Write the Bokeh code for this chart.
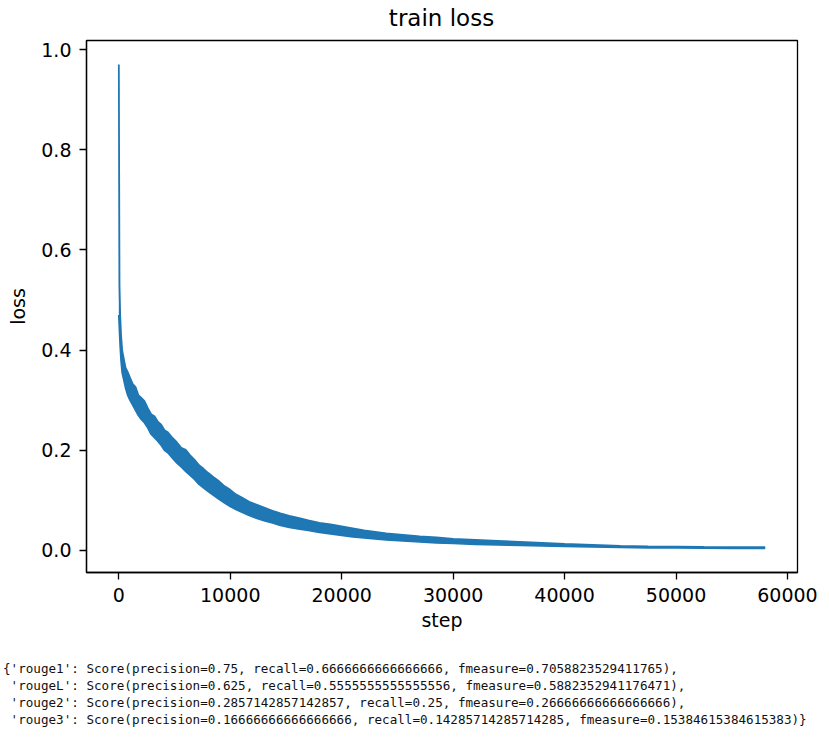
from bokeh.plotting import figure
from bokeh.models import Range1d, FixedTicker, Div
from bokeh.layouts import column
from bokeh.embed import file_html
from bokeh.resources import INLINE

# ---- data (noisy training loss drawn as its band) ----
steps = [0, 60, 120, 200, 300, 450, 600, 800, 1000, 1250, 1500, 1750, 2000, 2300,
         2600, 2900, 3200, 3500, 3800, 4100, 4400, 4800, 5200, 5600, 6000, 6400,
         6800, 7200, 7600, 8000, 8500, 9000, 9500, 10000, 10500, 11000, 11700,
         12400, 13100, 13800, 14500, 15300, 16100, 17000, 18000, 19000, 20000,
         21000, 22000, 23000, 24000, 25500, 27000, 28500, 30000, 32000, 34000,
         36000, 38000, 40000, 42500, 45000, 47500, 50000, 52500, 55000, 58000]
loss_upper = [0.97, 0.53, 0.47, 0.43, 0.40, 0.382, 0.365, 0.356, 0.345, 0.332, 0.326,
              0.31, 0.305, 0.298, 0.284, 0.272, 0.268, 0.257, 0.251, 0.24, 0.236,
              0.225, 0.216, 0.205, 0.201, 0.19, 0.181, 0.17, 0.163, 0.155, 0.146,
              0.138, 0.128, 0.121, 0.112, 0.106, 0.097, 0.091, 0.085, 0.079, 0.074,
              0.069, 0.065, 0.06, 0.055, 0.052, 0.048, 0.044, 0.040, 0.037, 0.034,
              0.031, 0.028, 0.026, 0.023, 0.021, 0.019, 0.017, 0.015, 0.013, 0.011,
              0.009, 0.008, 0.0075, 0.007, 0.0068, 0.0065]
loss_lower = [0.47, 0.44, 0.41, 0.38, 0.355, 0.34, 0.325, 0.31, 0.30, 0.29, 0.28,
              0.27, 0.262, 0.255, 0.245, 0.232, 0.225, 0.218, 0.21, 0.20, 0.195,
              0.185, 0.175, 0.167, 0.158, 0.15, 0.142, 0.132, 0.125, 0.118, 0.11,
              0.102, 0.095, 0.088, 0.082, 0.077, 0.07, 0.064, 0.059, 0.055, 0.05,
              0.046, 0.043, 0.04, 0.036, 0.033, 0.03, 0.027, 0.025, 0.023, 0.021,
              0.019, 0.017, 0.015, 0.014, 0.012, 0.011, 0.010, 0.009, 0.008, 0.007,
              0.006, 0.005, 0.005, 0.0045, 0.0042, 0.004]

x_ticks = [0, 10000, 20000, 30000, 40000, 50000, 60000]
x_tick_labels = ["0", "10000", "20000", "30000", "40000", "50000", "60000"]
y_ticks = [0.0, 0.2, 0.4, 0.6, 0.8, 1.0]
y_tick_labels = ["0.0", "0.2", "0.4", "0.6", "0.8", "1.0"]

title_text = "train loss"
x_label = "step"
y_label = "loss"

rouge_names = ["rouge1", "rougeL", "rouge2", "rouge3"]
rouge_precision = ["0.75", "0.625", "0.2857142857142857", "0.16666666666666666"]
rouge_recall = ["0.6666666666666666", "0.5555555555555556", "0.25", "0.14285714285714285"]
rouge_fmeasure = ["0.7058823529411765", "0.5882352941176471", "0.26666666666666666",
                  "0.15384615384615383"]

BLUE = "#1f77b4"
FONT = "DejaVu Sans"
W = 821
TITLE_H = 36
BL, BR, BT, BB = 86, 24, 4, 72
H = 608

title_div = Div(text=(f"<div style=\"width:{W - BL - BR}px; margin-left:{BL}px; "
                      f"text-align:center; font-family:'DejaVu Sans', sans-serif; "
                      f"font-size:23px; line-height:{TITLE_H}px; color:black;\">"
                      f"{title_text}</div>"),
                width=W, height=TITLE_H, margin=(0, 0, 0, 0))

p = figure(width=W, height=H,
           x_range=Range1d(-2900, 60900), y_range=Range1d(-0.044, 1.018),
           output_backend="svg", toolbar_location=None,
           min_border_left=BL, min_border_right=BR, min_border_top=BT,
           min_border_bottom=BB, x_axis_label=x_label, y_axis_label=y_label)

p.varea(x=steps, y1=loss_lower, y2=loss_upper, fill_color=BLUE, fill_alpha=1.0)
p.line(steps, loss_upper, line_color=BLUE, line_width=1.8)
p.line(steps, loss_lower, line_color=BLUE, line_width=1.8)

p.xgrid.grid_line_color = None
p.ygrid.grid_line_color = None
p.background_fill_color = "white"
p.border_fill_color = "white"
p.outline_line_color = "black"
p.outline_line_width = 1.3
p.outline_line_alpha = 1.0

p.xaxis.ticker = FixedTicker(ticks=x_ticks)
p.yaxis.ticker = FixedTicker(ticks=y_ticks)
p.xaxis.major_label_overrides = dict(zip(x_ticks, x_tick_labels))
p.yaxis.major_label_overrides = dict(zip(y_ticks, y_tick_labels))

for ax in (p.xaxis[0], p.yaxis[0]):
    ax.axis_line_color = "black"
    ax.axis_line_width = 1.3
    ax.major_tick_line_color = "black"
    ax.major_tick_line_width = 1.3
    ax.major_tick_out = 7
    ax.major_tick_in = 0
    ax.minor_tick_line_color = None
    ax.major_label_text_font = FONT
    ax.major_label_text_font_size = "19px"
    ax.major_label_text_color = "black"
    ax.axis_label_text_font = FONT
    ax.axis_label_text_font_size = "19px"
    ax.axis_label_text_font_style = "normal"
    ax.axis_label_text_color = "black"

p.xaxis[0].major_label_standoff = 8
p.xaxis[0].axis_label_standoff = 4
p.yaxis[0].major_label_standoff = 8
p.yaxis[0].axis_label_standoff = 9

lines = []
for i, name in enumerate(rouge_names):
    prefix = "{" if i == 0 else " "
    suffix = ")," if i < len(rouge_names) - 1 else ")}"
    lines.append(f"{prefix}'{name}': Score(precision={rouge_precision[i]}, "
                 f"recall={rouge_recall[i]}, fmeasure={rouge_fmeasure[i]}{suffix}")

div = Div(text=("<pre style=\"margin:0; padding-top:16px; position:relative; left:3px; "
                "font-family:'DejaVu Sans Mono', monospace; font-size:12.6px; "
                "line-height:17px; color:#111;\">" + "\n".join(lines) + "</pre>"),
          width=W, height=96, margin=(0, 0, 0, 0))

layout = column(title_div, p, div, spacing=0)
open("out.html", "w").write(file_html(layout, INLINE))
